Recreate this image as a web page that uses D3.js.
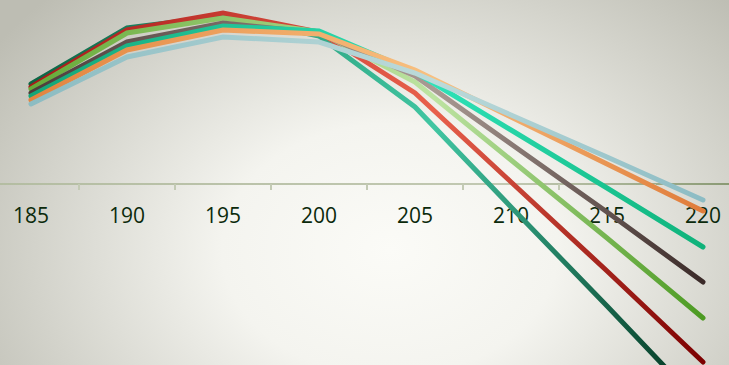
<!DOCTYPE html>
<meta charset='utf-8'>
<style>
    html, body {
        margin: 0;
        padding: 0;
        overflow: hidden;
    }

    .axis path {
        stroke-width: 2px;
    }

    .axis text {
        fill: #0b2a0b;
        font-size: 21px;
        font-family: 'Open Sans', sans-serif;
    }

    .tick-mark {
        stroke: #c3cab4;
        stroke-width: 2px;
    }

    .line {
        fill: none;
        stroke-width: 5px;
        stroke-linejoin: miter;
        stroke-linecap: round;
    }
</style>
<title>Line Graph</title>
<body>

<script src='https://cdn.jsdelivr.net/npm/d3@7'></script>
<script>

	let categories = ['185', '190', '195', '200', '205', '210', '215', '220'];

	let serA = [2.00, 3.12, 3.36, 2.96, 1.54, -0.46, -2.44, -4.46];
	let serB = [1.94, 3.08, 3.42, 3.04, 1.82, 0.04, -1.74, -3.56];
	let serC = [1.90, 3.02, 3.32, 3.04, 2.04, 0.48, -1.08, -2.68];
	let serD = [1.82, 2.84, 3.22, 3.02, 2.16, 0.80, -0.56, -1.96];
	let serE = [1.76, 2.76, 3.16, 3.06, 2.24, 1.08, -0.08, -1.26];
	let serF = [1.68, 2.68, 3.08, 3.00, 2.28, 1.34, 0.40, -0.54];
	let serG = [1.60, 2.54, 2.94, 2.84, 2.22, 1.38, 0.54, -0.32];

	// start colour / middle colour / end colour
	let colors = [
		['#0c6544', '#41c6a2', '#002e1a'],
		['#a81818', '#e8604c', '#7c0000'],
		['#66aa38', '#bde3a2', '#4c9a22'],
		['#4d3c3a', '#a99a93', '#3a2a28'],
		['#14a677', '#2ee2b8', '#0fb27a'],
		['#e2843f', '#f8c080', '#e07c3a'],
		['#8cbcc2', '#bcdada', '#8cbcc4']
	];

	let series = [serA, serB, serC, serD, serE, serF, serG];

	let width = 729,
		height = 365;

	let x = d3.scaleBand()
		.domain(categories)
		.range([-17, 751])
		.padding(0);

	let y = d3.scaleLinear()
		.domain([-5, 5])
		.range([434, -66]);

	let svg = d3.select('body').append('svg')
		.attr('width', width)
		.attr('height', height);

	let defs = svg.append('defs');

	let bg = defs.append('radialGradient')
		.attr('id', 'bg')
		.attr('gradientUnits', 'userSpaceOnUse')
		.attr('cx', 390).attr('cy', 250).attr('r', 480)
		.attr('gradientTransform', 'translate(390,250) scale(1,0.75) translate(-390,-250)');
	bg.append('stop').attr('offset', '0%').attr('stop-color', '#fbfbf7');
	bg.append('stop').attr('offset', '35%').attr('stop-color', '#f4f4ef');
	bg.append('stop').attr('offset', '100%').attr('stop-color', '#bdbdb3');

	let ax = defs.append('linearGradient')
		.attr('id', 'axisGrad')
		.attr('gradientUnits', 'userSpaceOnUse')
		.attr('x1', 0).attr('y1', 0)
		.attr('x2', width).attr('y2', 0);
	ax.append('stop').attr('offset', '0%').attr('stop-color', '#b4bda2');
	ax.append('stop').attr('offset', '70%').attr('stop-color', '#c2c9b2');
	ax.append('stop').attr('offset', '100%').attr('stop-color', '#8a9a74');

	svg.append('rect')
		.attr('width', width)
		.attr('height', height)
		.attr('fill', 'url(#bg)');

	let cx = function (c) { return x(c) + x.bandwidth() / 2; };

	colors.forEach(function (c, i) {
		let g = defs.append('linearGradient')
			.attr('id', 'lg' + i)
			.attr('gradientUnits', 'userSpaceOnUse')
			.attr('x1', cx(categories[0])).attr('y1', 0)
			.attr('x2', cx(categories[categories.length - 1])).attr('y2', 0);
		g.append('stop').attr('offset', '0%').attr('stop-color', c[0]);
		g.append('stop').attr('offset', '60%').attr('stop-color', c[1]);
		g.append('stop').attr('offset', '100%').attr('stop-color', c[2]);
	});

	let axis = svg.append('g')
		.attr('class', 'axis')
		.attr('transform', 'translate(0,' + y(0) + ')')
		.call(d3.axisBottom(x).tickSize(0).tickPadding(24));
	axis.select('.domain')
		.attr('d', 'M0,0H' + width)
		.attr('stroke', 'url(#axisGrad)');

	svg.append('g').selectAll('line')
		.data(categories.slice(1))
		.enter().append('line')
		.attr('class', 'tick-mark')
		.attr('x1', function (d) { return x(d); })
		.attr('x2', function (d) { return x(d); })
		.attr('y1', y(0))
		.attr('y2', y(0) + 6);

	let line = d3.line()
		.x(function (d, i) { return cx(categories[i]); })
		.y(function (d) { return y(d); });

	svg.selectAll('.line')
		.data(series)
		.enter().append('path')
		.attr('class', 'line')
		.attr('stroke', function (d, i) { return 'url(#lg' + i + ')'; })
		.attr('d', line);

</script>
</body>
